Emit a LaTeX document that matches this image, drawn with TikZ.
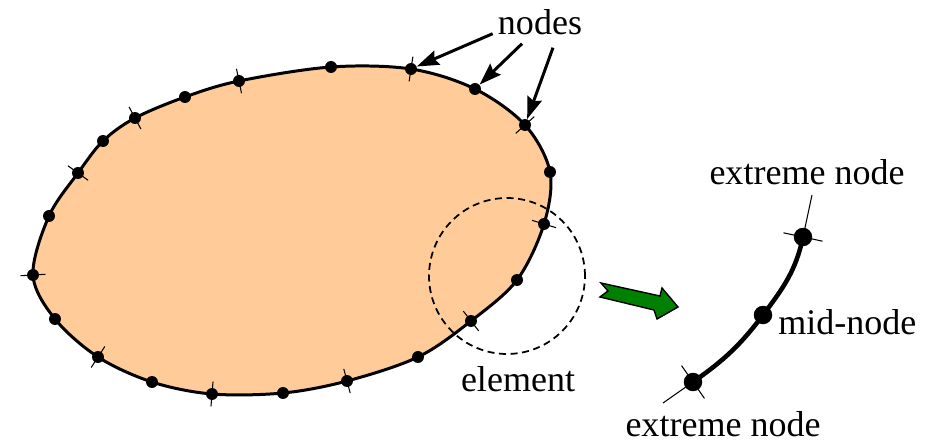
\documentclass[tikz,border=0pt]{standalone}
\usepackage{fontspec}
\setmainfont{Liberation Serif}
\usetikzlibrary{positioning,arrows.meta,calc}
\definecolor{peach}{HTML}{FFCC99}
\definecolor{leafgreen}{HTML}{008000}
\tikzset{
  boundary/.style={draw, line width=1.7pt, fill=peach},
  ticky/.style={line width=0.6pt},
  meshdot/.style={circle, fill, inner sep=0pt, minimum size=0.24cm},
  bigdot/.style={circle, fill, inner sep=0pt, minimum size=0.37cm},
  pointer/.style={-{Stealth[length=0.44cm, width=0.3cm, inset=0.06cm]}, line width=1.7pt},
  zoomring/.style={draw, circle, dash pattern=on 4pt off 2.6pt, line width=1pt, minimum size=3.12cm, inner sep=0pt},
  elemline/.style={line width=2.6pt},
  blockarrow/.style={draw, fill=leafgreen, line width=0.8pt, line join=miter},
  tag/.style={inner sep=0pt, anchor=base}
}

\begin{document}
\begin{tikzpicture}[x=0.02cm, y=-0.02cm, every node/.style={font=\rmfamily\fontsize{20.5}{24}\selectfont}]
  \useasboundingbox (0,0) rectangle (948,446);
  % boundary of the domain
  \foreach \x/\y [count=\i] in {331/67, 411/69, 475/89, 525/125, 550/172, 544/224, 517/280, 471/321, 418/357, 347/381, 283/393, 212/394, 152/382, 98/357, 55/319, 33/275, 49/216, 78/173, 103/141, 135/118, 185/97, 239/81}
    \coordinate (p\i) at (\x,\y);
  \draw[boundary] plot[smooth cycle, tension=0.55] coordinates {(p1) (p2) (p3) (p4) (p5) (p6) (p7) (p8) (p9) (p10) (p11) (p12) (p13) (p14) (p15) (p16) (p17) (p18) (p19) (p20) (p21) (p22)};
  \foreach \i/\a/\b in {2/1/3, 4/3/5, 6/5/7, 8/7/9, 10/9/11, 12/11/13, 14/13/15, 16/15/17, 18/17/19, 20/19/21, 22/21/1}
    \draw[ticky] let \p1=($(p\b)-(p\a)$), \n1={atan2(\y1,\x1)} in ($(p\i)+(\n1+90:0.25cm)$) -- ($(p\i)+(\n1-90:0.25cm)$);
  \foreach \i in {1,...,22}
    \node[meshdot] (n\i) at (p\i) {};
  \node[zoomring] (ring) at (507,276) {};

  % labels
  \node[tag] (lblnodes) at (540,35) {nodes};
  \node[tag] (lblelem) at (518,392) {element};
  \draw[pointer] ([shift={(-5,-2)}]lblnodes.south west) -- (n2);
  \draw[pointer] ([shift={(-18,8)}]lblnodes.south) -- (n3);
  \draw[pointer] ([shift={(13,12)}]lblnodes.south) -- (n4);

  \draw[blockarrow] (601,283) -- (660,296) -- (662,288) -- (678,307) -- (657,319) -- (654,310) -- (600,297) -- (608,291) -- cycle;

  % the element by itself
  \coordinate (e1) at (693,382);
  \coordinate (e2) at (763,315);
  \coordinate (e3) at (803,237);
  \coordinate (x1) at (663,403);
  \coordinate (x3) at (812,195);
  \draw[ticky] (x1) -- (e1);
  \draw[ticky] (e3) -- (x3);
  \draw[elemline] (e1) to[out=35, in=233] (e2) to[out=53, in=258] (e3);
  \draw[ticky] let \p1=($(e1)-(x1)$), \n1={atan2(\y1,\x1)} in ($(e1)+(\n1+90:0.4cm)$) -- ($(e1)+(\n1-90:0.4cm)$);
  \draw[ticky] let \p1=($(x3)-(e3)$), \n1={atan2(\y1,\x1)} in ($(e3)+(\n1+90:0.4cm)$) -- ($(e3)+(\n1-90:0.4cm)$);
  \node[bigdot] (m1) at (e1) {};
  \node[bigdot] (m2) at (e2) {};
  \node[bigdot] (m3) at (e3) {};
  \node[tag] (topext) at (807,185) {extreme node};
  \node[tag, anchor=base west] (midlbl) at (778,335) {mid-node};
  \node[tag] (botext) at (723,437) {extreme node};
\end{tikzpicture}
\end{document}
